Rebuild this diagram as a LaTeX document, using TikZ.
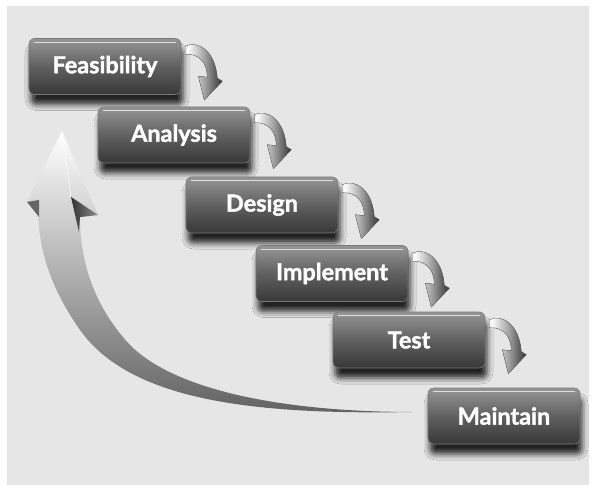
\documentclass[tikz,border=0pt]{standalone}
\usepackage{fontspec}
\setsansfont{Lato}[BoldFeatures={FakeBold=1.6}]
\usetikzlibrary{shadows.blur}
\definecolor{panel}{RGB}{230,230,230}
\definecolor{boxtop}{RGB}{150,150,150}
\definecolor{boxmid}{RGB}{96,96,96}
\definecolor{boxbot}{RGB}{56,56,56}
\definecolor{boxedge}{RGB}{120,120,120}
\pgfdeclarehorizontalshading{metal}{100bp}{color(0bp)=(black!70); color(28bp)=(white); color(50bp)=(black!35); color(75bp)=(black!80); color(100bp)=(white)}
\tikzset{
  stepbox/.style={rounded corners=6bp, minimum width=152bp, minimum height=56bp,
    inner sep=0pt, text=white, font=\sffamily\bfseries\fontsize{23.5}{26}\selectfont,
    top color=boxtop, bottom color=boxbot, middle color=boxmid,
    draw=boxedge, line width=0.6bp,
    blur shadow={shadow xshift=2bp, shadow yshift=-10bp, shadow blur radius=6bp, shadow opacity=85}},
  hl/.style={draw=white!75!gray, line width=0.9bp},
  curl/.pic={
    \fill[shading=metal, shading angle=0]
      (4,8) .. controls (16,2) and (34,12) .. (36,40) -- (41,43) -- (23,62) -- (17,38) -- (26,39)
      .. controls (26,25) and (18,15) .. (4,16) -- cycle;
    \draw[black!60, line width=0.3bp]
      (4,8) .. controls (16,2) and (34,12) .. (36,40) -- (41,43) -- (23,62) -- (17,38) -- (26,39)
      .. controls (26,25) and (18,15) .. (4,16) -- cycle;
  }
}
\begin{document}
\begin{tikzpicture}[x=1bp,y=-1bp]
\useasboundingbox (0,0) rectangle (595,485);
\fill[white] (0,0) rectangle (595,485);
\fill[panel] (7,6) rectangle (589,485);

% big return arrow
\shade[top color=white, bottom color=black!62]
  (413,412) .. controls (250,415) and (130,400) .. (80,330)
  .. controls (45,280) and (38,240) .. (38,206) -- (27,202) -- (62,131) -- (98,215) -- (80,217)
  .. controls (80,255) and (90,302) .. (130,345)
  .. controls (180,395) and (300,412) .. (413,412) -- cycle;
\fill[black!60] (27,202) -- (39,200) -- (39,217) -- cycle;
\shade[left color=black!80, right color=black!45] (71,197) -- (98,215) -- (80,217) -- (79,232) -- cycle;
\draw[white, line width=0.5bp] (62,133) -- (71,197);

% steps
\node[stepbox] (f) at (105,66.5) {Feasibility};
\node[stepbox] (a) at (174,135) {Analysis};
\node[stepbox] (d) at (262,205) {Design};
\node[stepbox] (i) at (332,273.5) {Implement};
\node[stepbox] (t) at (409,340) {Test};
\node[stepbox] (m) at (504,416) {Maintain};

\foreach \n in {f,a,d,i,t,m}
  \draw[hl] ([xshift=5bp,yshift=-4bp]\n.north west) -- ([xshift=-5bp,yshift=-4bp]\n.north east);

\foreach \n in {f,a,d,i,t}
  \pic at (\n.north east) {curl};
\end{tikzpicture}
\end{document}
